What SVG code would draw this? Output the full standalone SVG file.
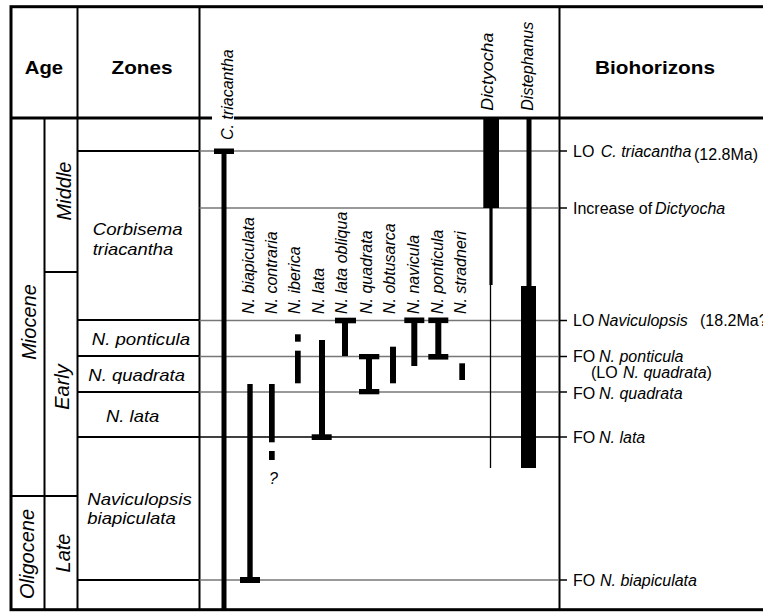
<svg xmlns="http://www.w3.org/2000/svg" width="763" height="612" viewBox="0 0 763 612">
<style>
text{font-family:"Liberation Sans",Arial,Helvetica,sans-serif;fill:#000}
.hd{font-size:19px;font-weight:bold;text-anchor:middle}
.age{font-size:20px;font-style:italic;text-anchor:middle}
.zn{font-size:16.5px;font-style:italic}
.sp{font-size:16px;font-style:italic}
.bh{font-size:16px}
.it{font-style:italic}
.frame{stroke:#000;stroke-width:3;fill:none}
.col{stroke:#000;stroke-width:2}
.zl{stroke:#000;stroke-width:2}
.gl{stroke:#777;stroke-width:1.3}
.bl{stroke:#000;stroke-width:1.5}
.tk{stroke:#000;stroke-width:1.5}
.bar{fill:#000}
</style>
<rect x="0" y="0" width="763" height="612" fill="#fff"/>

<g id="frame">
  <rect class="frame" x="11" y="6.7" width="800" height="603"/>
  <line class="frame" x1="11" y1="118" x2="212" y2="118"/>
  <line class="frame" x1="234" y1="118" x2="800" y2="118"/>
  <line class="col" x1="77.5" y1="7" x2="77.5" y2="610"/>
  <line class="col" x1="44.5" y1="118" x2="44.5" y2="610"/>
  <line class="col" x1="199.5" y1="7" x2="199.5" y2="610"/>
  <line class="col" x1="559.5" y1="7" x2="559.5" y2="610"/>
  <line class="col" x1="44.5" y1="272" x2="77.5" y2="272"/>
  <line class="col" x1="11" y1="496" x2="77.5" y2="496"/>
</g>

<g id="headers">
  <text class="hd" x="44" y="74" textLength="38.3" lengthAdjust="spacingAndGlyphs">Age</text>
  <text class="hd" x="142" y="74" textLength="61" lengthAdjust="spacingAndGlyphs">Zones</text>
  <text class="hd" x="655" y="74" textLength="120" lengthAdjust="spacingAndGlyphs">Biohorizons</text>
</g>

<g id="age">
  <text class="age" transform="translate(35.5,322) rotate(-90)">Miocene</text>
  <text class="age" transform="translate(34,554) rotate(-90)">Oligocene</text>
  <text class="age" transform="translate(70.5,191) rotate(-90)">Middle</text>
  <text class="age" transform="translate(69,387) rotate(-90)">Early</text>
  <text class="age" transform="translate(70,553) rotate(-90)">Late</text>
</g>

<g id="zones">
  <line class="zl" x1="77.5" y1="151" x2="199.5" y2="151"/>
  <line class="zl" x1="77.5" y1="320" x2="199.5" y2="320"/>
  <line class="zl" x1="77.5" y1="356" x2="199.5" y2="356"/>
  <line class="zl" x1="77.5" y1="392" x2="199.5" y2="392"/>
  <line class="zl" x1="77.5" y1="437" x2="199.5" y2="437"/>
  <line class="zl" x1="77.5" y1="580" x2="199.5" y2="580"/>
  <text class="zn" x="92.7" y="235" textLength="90" lengthAdjust="spacingAndGlyphs">Corbisema</text>
  <text class="zn" x="92.7" y="255" textLength="80.6" lengthAdjust="spacingAndGlyphs">triacantha</text>
  <text class="zn" x="91.7" y="344.5" textLength="98.3" lengthAdjust="spacingAndGlyphs">N. ponticula</text>
  <text class="zn" x="88.3" y="380.7" textLength="96.7" lengthAdjust="spacingAndGlyphs">N. quadrata</text>
  <text class="zn" x="106" y="421.7" textLength="53.3" lengthAdjust="spacingAndGlyphs">N. lata</text>
  <text class="zn" x="87.3" y="505" textLength="104.4" lengthAdjust="spacingAndGlyphs">Naviculopsis</text>
  <text class="zn" x="87.3" y="523.5" textLength="88.4" lengthAdjust="spacingAndGlyphs">biapiculata</text>
</g>

<g id="connectors">
  <line class="gl" x1="199.5" y1="151" x2="559" y2="151"/>
  <line class="gl" x1="199.5" y1="208" x2="559" y2="208"/>
  <line class="gl" x1="199.5" y1="320.5" x2="559" y2="320.5"/>
  <line class="gl" x1="199.5" y1="356.5" x2="559" y2="356.5"/>
  <line class="gl" x1="199.5" y1="392" x2="559" y2="392"/>
  <line class="bl" x1="199.5" y1="437" x2="559" y2="437"/>
  <line class="gl" x1="199.5" y1="580" x2="559" y2="580"/>
  <line class="tk" x1="559" y1="151" x2="567" y2="151"/>
  <line class="tk" x1="559" y1="208" x2="567" y2="208"/>
  <line class="tk" x1="559" y1="320.5" x2="567" y2="320.5"/>
  <line class="tk" x1="559" y1="356.5" x2="567" y2="356.5"/>
  <line class="tk" x1="559" y1="392" x2="567" y2="392"/>
  <line class="tk" x1="559" y1="437" x2="567" y2="437"/>
  <line class="tk" x1="559" y1="580" x2="567" y2="580"/>
</g>

<g id="c-triacantha">
  <text class="sp" font-size="15.5" transform="translate(233,140) rotate(-90)">C. triacantha</text>
  <rect class="bar" x="221.5" y="151" width="5" height="459"/>
  <rect class="bar" x="214" y="148.5" width="20" height="5.5"/>
</g>
<g id="n-biapiculata">
  <text class="sp" transform="translate(254.3,314) rotate(-90)">N. biapiculata</text>
  <rect class="bar" x="247.3" y="384" width="5.4" height="196"/>
  <rect class="bar" x="240" y="577" width="20" height="6"/>
</g>
<g id="n-contraria">
  <text class="sp" transform="translate(276.7,314) rotate(-90)">N. contraria</text>
  <rect class="bar" x="269" y="384" width="5.7" height="58.3"/>
  <rect class="bar" x="269" y="451" width="5.7" height="9"/>
  <text class="sp" x="273.5" y="484" text-anchor="middle">?</text>
</g>
<g id="n-iberica">
  <text class="sp" transform="translate(300,314) rotate(-90)">N. iberica</text>
  <rect class="bar" x="295" y="334.3" width="5.7" height="7.4"/>
  <rect class="bar" x="295" y="350.7" width="5.7" height="32.6"/>
</g>
<g id="n-lata">
  <text class="sp" transform="translate(324,314) rotate(-90)">N. lata</text>
  <rect class="bar" x="319" y="340" width="6" height="97"/>
  <rect class="bar" x="311.7" y="434.3" width="20" height="5.7"/>
</g>
<g id="n-lata-obliqua">
  <text class="sp" transform="translate(346.7,314) rotate(-90)">N. lata obliqua</text>
  <rect class="bar" x="335" y="317.7" width="21" height="5.6"/>
  <rect class="bar" x="342" y="318" width="6" height="38"/>
</g>
<g id="n-quadrata">
  <text class="sp" transform="translate(371.7,314) rotate(-90)">N. quadrata</text>
  <rect class="bar" x="359" y="354" width="20.3" height="5.3"/>
  <rect class="bar" x="366" y="354" width="6" height="40"/>
  <rect class="bar" x="359" y="389" width="20.3" height="5.3"/>
</g>
<g id="n-obtusarca">
  <text class="sp" transform="translate(395,314) rotate(-90)">N. obtusarca</text>
  <rect class="bar" x="390" y="346.7" width="6" height="36.6"/>
</g>
<g id="n-navicula">
  <text class="sp" transform="translate(419,314) rotate(-90)">N. navicula</text>
  <rect class="bar" x="404.3" y="317.5" width="20" height="5.6"/>
  <rect class="bar" x="411.3" y="318" width="6" height="48"/>
</g>
<g id="n-ponticula">
  <text class="sp" transform="translate(442.7,314) rotate(-90)">N. ponticula</text>
  <rect class="bar" x="428.3" y="317.5" width="20" height="5.6"/>
  <rect class="bar" x="435.3" y="318" width="6" height="41"/>
  <rect class="bar" x="428.3" y="354" width="20" height="5.6"/>
</g>
<g id="n-stradneri">
  <text class="sp" transform="translate(466,314) rotate(-90)">N. stradneri</text>
  <rect class="bar" x="459.3" y="363.3" width="5.7" height="16.7"/>
</g>
<g id="dictyocha">
  <text class="sp" transform="translate(493,110.7) rotate(-90)" textLength="78" lengthAdjust="spacingAndGlyphs">Dictyocha</text>
  <rect class="bar" x="483.3" y="119" width="15.7" height="89"/>
  <rect class="bar" x="489.4" y="208" width="3.2" height="77"/>
  <line x1="490.5" y1="285" x2="490.5" y2="468" stroke="#000" stroke-width="1.3"/>
</g>
<g id="distephanus">
  <text class="sp" transform="translate(533,110.7) rotate(-90)">Distephanus</text>
  <rect class="bar" x="526.5" y="119" width="5" height="168"/>
  <rect class="bar" x="521" y="286" width="15" height="182"/>
</g>

<g id="biohorizons">
  <text class="bh" x="573" y="157">LO<tspan class="it" x="600.7">C. triacantha</tspan><tspan x="694" y="159.5">(12.8Ma)</tspan></text>
  <text class="bh" x="573" y="214">Increase of <tspan class="it" x="655">Dictyocha</tspan></text>
  <text class="bh" x="573" y="326">LO<tspan class="it" x="598">Naviculopsis</tspan><tspan x="700">(18.2Ma?)</tspan></text>
  <text class="bh" x="573" y="361.7">FO<tspan class="it" x="599">N. ponticula</tspan></text>
  <text class="bh" x="591" y="378.3">(LO<tspan class="it" x="623">N. quadrata</tspan>)</text>
  <text class="bh" x="573" y="399.3">FO<tspan class="it" x="599">N. quadrata</tspan></text>
  <text class="bh" x="573" y="442.7">FO<tspan class="it" x="599">N. lata</tspan></text>
  <text class="bh" x="573" y="585.7">FO<tspan class="it" x="600">N. biapiculata</tspan></text>
</g>
</svg>
